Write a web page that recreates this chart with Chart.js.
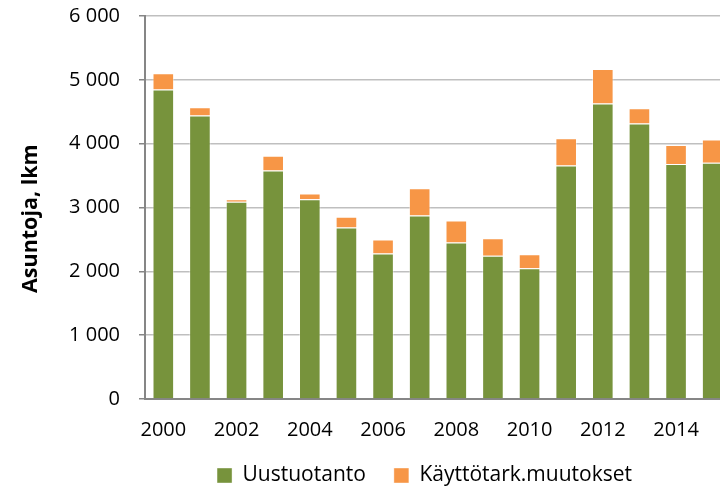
<!DOCTYPE html>
<html>
<head>
<meta charset="utf-8">
<script src="https://cdn.jsdelivr.net/npm/chart.js@4"></script>
<style>
    html, body { margin: 0; padding: 0; overflow: hidden; background: #fff; }
    #wrap { width: 720px; height: 486px; overflow: hidden; }
</style>
</head>
<body>
<div id="wrap">
    <canvas id="myChart" width="849" height="486"></canvas>
</div>
<script>
const years = ['2000', '2001', '2002', '2003', '2004', '2005', '2006', '2007',
    '2008', '2009', '2010', '2011', '2012', '2013', '2014', '2015'];

const uustuotanto = [4850, 4440, 3090, 3580, 3130, 2685, 2280, 2873,
    2450, 2246, 2050, 3657, 4628, 4315, 3683, 3703];

const kayttotark = [255, 132, 40, 230, 88, 172, 220, 428,
    345, 272, 218, 428, 540, 241, 298, 362];

const yTicks = [0, 1000, 2000, 3000, 4000, 5000, 6000];

const fontFamily = "'Open Sans', sans-serif";
const axisColor = '#868686';

const formatThousands = (v) => {
    if (v < 1000) {
        return String(v);
    }
    return Math.floor(v / 1000) + ' ' + String(v % 1000).padStart(3, '0');
};

const ctx = document.getElementById('myChart');

// the original chart is wider than the picture: the 2015 bar gets cut at the right edge,
// so the canvas is wider than the window and a blank right axis keeps the legend centred
let barChart = new Chart(ctx, {
    type: 'bar',
    data: {
        labels: years,
        datasets: [{
            label: 'Uustuotanto',
            data: uustuotanto,
            backgroundColor: '#77933C',
            borderColor: 'rgba(255,255,255,0.4)',
            borderWidth: 1,
            barPercentage: 0.59,
            categoryPercentage: 1
        }, {
            label: 'Käyttötark.muutokset',
            data: kayttotark,
            backgroundColor: '#F79646',
            borderColor: 'rgba(255,255,255,0.4)',
            borderWidth: 1,
            barPercentage: 0.59,
            categoryPercentage: 1
        }]
    },
    options: {
        responsive: false,
        animation: false,
        layout: {
            padding: { top: 16, left: 0, right: 0, bottom: -10 }
        },
        plugins: {
            legend: {
                position: 'bottom',
                labels: {
                    boxWidth: 15,
                    boxHeight: 15,
                    padding: 28,
                    color: '#000',
                    font: { family: fontFamily, size: 21 }
                }
            },
            tooltip: { enabled: false }
        },
        scales: {
            x: {
                stacked: true,
                afterFit: (scale) => { scale.height = 38; },
                grid: { display: false },
                border: { display: true, color: axisColor, width: 2 },
                ticks: {
                    autoSkip: false,
                    maxRotation: 0,
                    padding: 11,
                    color: '#000',
                    font: { family: fontFamily, size: 20 },
                    callback: (val, idx) => idx % 2 === 0 ? years[idx] : ''
                }
            },
            y: {
                stacked: true,
                min: yTicks[0],
                max: yTicks[yTicks.length - 1],
                afterFit: (scale) => {
                    scale.width = 145;
                    scale.paddingTop = 12;
                    scale.paddingBottom = 0;
                },
                afterBuildTicks: (scale) => {
                    scale.ticks = yTicks.map(v => ({ value: v }));
                },
                grid: {
                    color: '#BFBFBF',
                    lineWidth: 1.5,
                    tickLength: 6,
                    tickColor: axisColor
                },
                border: { color: axisColor, width: 2 },
                ticks: {
                    padding: 19,
                    color: '#000',
                    font: { family: fontFamily, size: 20 },
                    callback: (v) => formatThousands(v)
                },
                title: {
                    display: true,
                    // trailing spaces push the centred text a bit lower, like the original
                    text: 'Asuntoja, lkm    ',
                    color: '#000',
                    padding: { top: 18, bottom: 0 },
                    font: { family: fontFamily, size: 21.5, weight: 'bold' }
                }
            },
            spacer: {
                type: 'linear',
                position: 'right',
                afterFit: (scale) => { scale.width = 118; },
                grid: { display: false },
                border: { display: false },
                ticks: { display: false }
            }
        }
    }
});
</script>
</body>
</html>
